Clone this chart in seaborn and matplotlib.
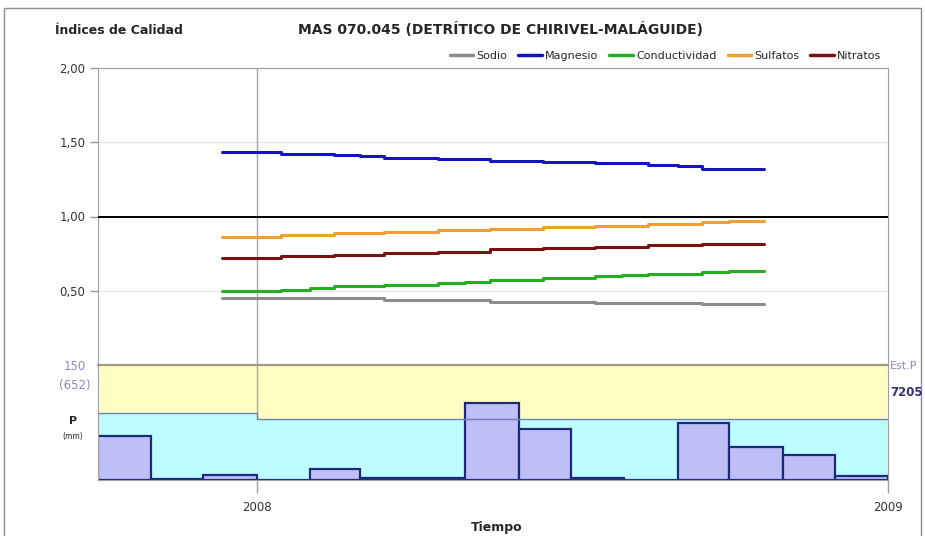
import matplotlib
matplotlib.use('Agg')
import matplotlib.pyplot as plt
import matplotlib.dates as mdates
from matplotlib.patches import Rectangle
from matplotlib.lines import Line2D
import seaborn as sns
import pandas as pd
import numpy as np

sns.set_style('white')
plt.rcParams['font.family'] = ['DejaVu Sans']

# --- quality indices, read at each step of the curves ---
sodio_dates = ['2007-12-12', '2008-03-15', '2008-05-15', '2008-07-15', '2008-09-15', '2008-10-21']
sodio_vals = [0.449, 0.438, 0.426, 0.420, 0.411, 0.411]

magnesio_dates = ['2007-12-12', '2008-01-15', '2008-02-15', '2008-03-01', '2008-03-15', '2008-04-15',
                  '2008-05-15', '2008-06-15', '2008-07-15', '2008-08-15', '2008-09-01', '2008-09-15',
                  '2008-10-21']
magnesio_vals = [1.431, 1.424, 1.415, 1.407, 1.395, 1.386, 1.375, 1.366, 1.357, 1.347, 1.340, 1.322, 1.322]

conduct_dates = ['2007-12-12', '2008-01-15', '2008-02-01', '2008-02-15', '2008-03-15', '2008-04-15',
                 '2008-05-01', '2008-05-15', '2008-06-15', '2008-07-15', '2008-07-31', '2008-08-15',
                 '2008-09-15', '2008-10-01', '2008-10-21']
conduct_vals = [0.498, 0.505, 0.519, 0.531, 0.540, 0.552, 0.561, 0.572, 0.587, 0.596, 0.603, 0.614,
                0.624, 0.635, 0.635]

sulfatos_dates = ['2007-12-12', '2008-01-15', '2008-02-15', '2008-03-15', '2008-04-15', '2008-05-15',
                  '2008-06-15', '2008-07-15', '2008-08-15', '2008-09-15', '2008-10-01', '2008-10-21']
sulfatos_vals = [0.864, 0.875, 0.886, 0.896, 0.907, 0.918, 0.929, 0.939, 0.950, 0.961, 0.972, 0.972]

nitratos_dates = ['2007-12-12', '2008-01-15', '2008-02-15', '2008-03-15', '2008-04-15', '2008-05-15',
                  '2008-06-15', '2008-07-15', '2008-08-15', '2008-09-15', '2008-10-21']
nitratos_vals = [0.722, 0.732, 0.743, 0.753, 0.762, 0.778, 0.787, 0.797, 0.805, 0.815, 0.815]

# --- monthly precipitation (mm) ---
precip_months = ['2007-10', '2007-11', '2007-12', '2008-01', '2008-02', '2008-03', '2008-04', '2008-05',
                 '2008-06', '2008-07', '2008-08', '2008-09', '2008-10', '2008-11', '2008-12']
precip_mm = [58, 1, 7, 0, 15, 3, 3, 100, 66, 3, 0, 74, 43, 33, 5]
ref_dates = ['2007-10-01', '2008-01-01', '2009-01-01']
ref_mm = [88, 80, 80]

names = ['Sodio', 'Magnesio', 'Conductividad', 'Sulfatos', 'Nitratos']
colors = ['#8c8c8c', '#1414c0', '#22b022', '#f0a030', '#7a1010']

frames = []
for n, d, v in zip(names, [sodio_dates, magnesio_dates, conduct_dates, sulfatos_dates, nitratos_dates],
                   [sodio_vals, magnesio_vals, conduct_vals, sulfatos_vals, nitratos_vals]):
    frames.append(pd.DataFrame({'t': mdates.date2num(pd.to_datetime(d)), 'v': v, 'param': n}))
df_lines = pd.concat(frames, ignore_index=True)

month_starts = pd.to_datetime(precip_months)
edges = [float(e) for e in mdates.date2num(list(month_starts) + [pd.Timestamp('2009-01-01')])]
x_start, x_end = edges[0], edges[-1]
t2008 = mdates.date2num(pd.Timestamp('2008-01-01'))
t2009 = mdates.date2num(pd.Timestamp('2009-01-01'))
df_p = pd.DataFrame({'t': mdates.date2num(month_starts) + 1.0, 'mm': precip_mm})

W, H = 925, 536
fig = plt.figure(figsize=(W / 100, H / 100), dpi=100)
L, R = 98, 888
ax = fig.add_axes([L / W, 1 - 365 / H, (R - L) / W, (365 - 68) / H])
axb = fig.add_axes([L / W, 1 - 480 / H, (R - L) / W, (480 - 365) / H], sharex=ax)

# top panel: quality indices
sns.lineplot(data=df_lines, x='t', y='v', hue='param', hue_order=names, palette=dict(zip(names, colors)),
             estimator=None, drawstyle='steps-post', lw=2.2, legend=False, ax=ax)
ax.axhline(1.0, color='black', lw=1.4, zorder=3)
ax.axvline(t2008, color='#a8a8a8', lw=1, zorder=1)
ax.set_ylim(0, 2.0)
ax.set_xlim(x_start, x_end)
ax.set_yticks([0.5, 1.0, 1.5, 2.0])
ax.set_yticklabels(['0,50', '1,00', '1,50', '2,00'])
ax.grid(axis='y', color='#e6e6e6', lw=1)
ax.tick_params(axis='y', left=True, length=6, width=1, color='#999999', labelsize=8.5,
               labelcolor='#333333', pad=3)
ax.tick_params(axis='x', bottom=False, labelbottom=False)
ax.set_xlabel('')
ax.set_ylabel('')
for s in ['left', 'top', 'right']:
    ax.spines[s].set_color('#a0a0a0')
ax.spines['bottom'].set_visible(False)

handles = [Line2D([], [], color=c, lw=2.5) for c in colors]
ax.legend(handles, names, ncol=5, loc='lower right', bbox_to_anchor=(1.0, 1.0), frameon=False,
          fontsize=8, handlelength=2.1, columnspacing=1.0, handletextpad=0.3, borderaxespad=0.2)

# bottom panel: precipitation
axb.set_facecolor('#ffffc4')
axb.fill_between(mdates.date2num(pd.to_datetime(ref_dates)), ref_mm, step='post', color='#bdfcff', lw=0)
axb.step(mdates.date2num(pd.to_datetime(ref_dates)), ref_mm, where='post', color='#7080b8', lw=1)
sns.histplot(data=df_p, x='t', weights='mm', bins=edges, stat='count',
             color='#bfbff8', edgecolor='#1c2a78', linewidth=1.6, alpha=1, ax=axb)
axb.axvline(t2008, color='#a8a8a8', lw=1, zorder=0.5)
axb.set_ylim(0, 150)
axb.set_xlim(x_start, x_end)
axb.set_yticks([])
axb.set_ylabel('')
axb.set_xlabel('')
axb.set_xticks([t2008, t2009])
axb.set_xticklabels(['2008', '2009'])
axb.tick_params(axis='x', bottom=True, length=9, width=1, color='#a0a0a0', labelsize=8.5,
                labelcolor='#333333', pad=6)
axb.spines['top'].set_color('#9c9a84')
axb.spines['top'].set_linewidth(1.6)
for s in ['left', 'right', 'bottom']:
    axb.spines[s].set_color('#a0a0a0')

# texts
fig.text(55 / W, 1 - 30 / H, 'Índices de Calidad', ha='left', va='center', fontsize=9, weight='bold')
fig.text(500 / W, 1 - 30 / H, 'MAS 070.045 (DETRÍTICO DE CHIRIVEL-MALÁGUIDE)', ha='center', va='center',
         fontsize=10, weight='bold')
fig.text(75 / W, 1 - 366 / H, '150', ha='center', va='center', fontsize=8.5, color='#8888cc')
fig.text(75 / W, 1 - 385 / H, '(652)', ha='center', va='center', fontsize=8.5, color='#8888cc')
fig.text(73 / W, 1 - 421 / H, 'P', ha='center', va='center', fontsize=8, weight='bold')
fig.text(73 / W, 1 - 436 / H, '(mm)', ha='center', va='center', fontsize=5.5)
fig.text(890 / W, 1 - 366 / H, 'Est.P', ha='left', va='center', fontsize=8, color='#8888cc')
fig.text(890 / W, 1 - 393 / H, '7205', ha='left', va='center', fontsize=8.5, weight='bold', color='#303070')
fig.text(497 / W, 1 - 527 / H, 'Tiempo', ha='center', va='center', fontsize=9, weight='bold')

fig.add_artist(Rectangle((4 / W, -0.01), (921 - 4) / W, 1.01 - 8 / H, transform=fig.transFigure,
                         fill=False, edgecolor='#8c8c8c', lw=1))

fig.savefig('out.png', dpi=100)
